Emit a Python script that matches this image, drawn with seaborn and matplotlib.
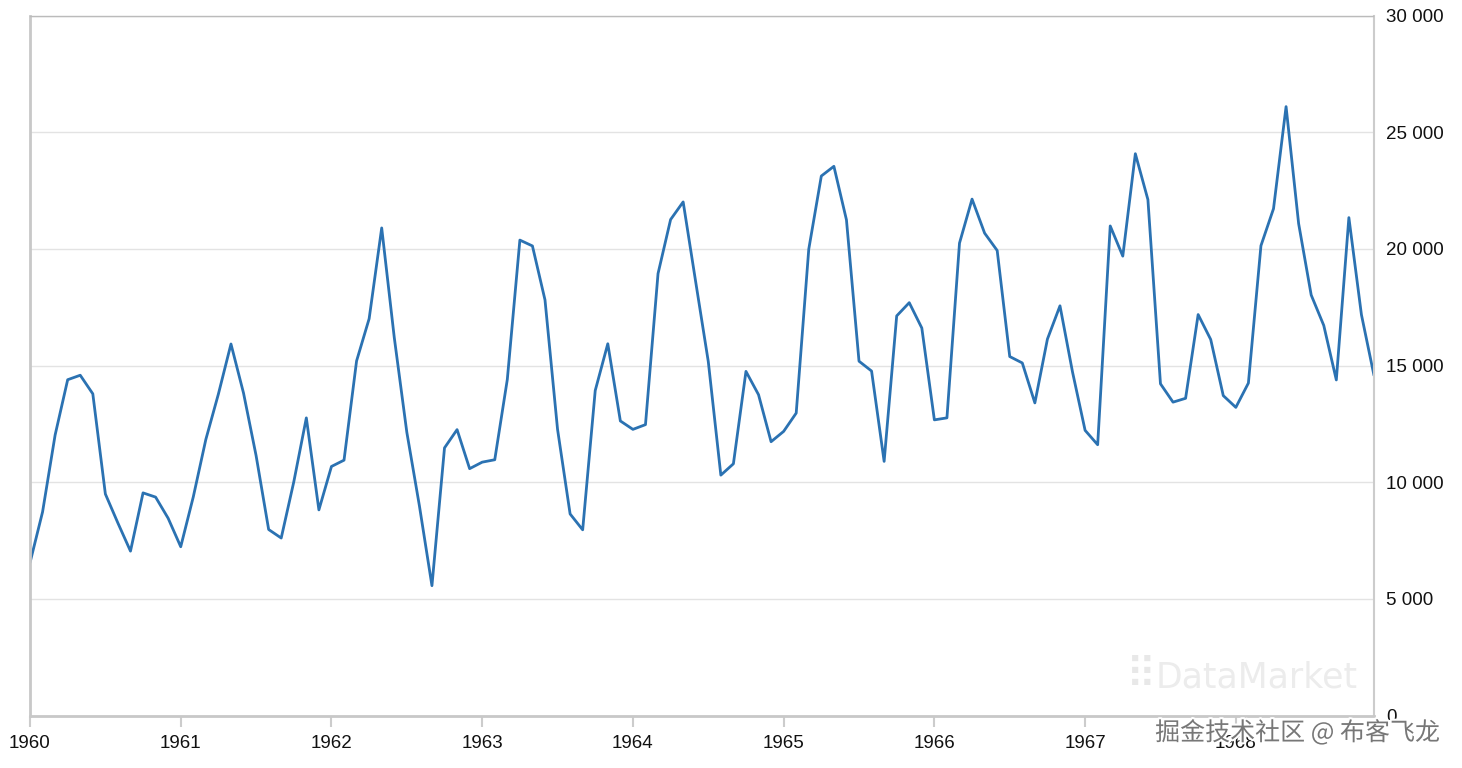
import matplotlib
matplotlib.use("Agg")
import matplotlib.pyplot as plt
import seaborn as sns
import pandas as pd
import numpy as np
from matplotlib.ticker import FuncFormatter, FixedLocator
import matplotlib.patheffects as pe

years = [1960, 1961, 1962, 1963, 1964, 1965, 1966, 1967, 1968]
sales_1960 = [6550, 8728, 12026, 14395, 14587, 13791, 9498, 8251, 7049, 9545, 9364, 8456]
sales_1961 = [7237, 9374, 11837, 13784, 15926, 13821, 11143, 7975, 7610, 10015, 12759, 8816]
sales_1962 = [10677, 10947, 15200, 17010, 20900, 16205, 12143, 8997, 5568, 11474, 12256, 10583]
sales_1963 = [10862, 10965, 14405, 20379, 20128, 17816, 12268, 8642, 7962, 13932, 15936, 12628]
sales_1964 = [12267, 12470, 18944, 21259, 22015, 18581, 15175, 10306, 10792, 14752, 13754, 11738]
sales_1965 = [12181, 12965, 19990, 23125, 23541, 21247, 15189, 14767, 10895, 17130, 17697, 16611]
sales_1966 = [12674, 12760, 20249, 22135, 20677, 19933, 15388, 15113, 13401, 16135, 17562, 14720]
sales_1967 = [12225, 11608, 20985, 19692, 24081, 22114, 14220, 13434, 13598, 17187, 16119, 13713]
sales_1968 = [13210, 14251, 20139, 21725, 26099, 21084, 18024, 16722, 14385, 21342, 17180, 14577]
y_ticks = [0, 5000, 10000, 15000, 20000, 25000, 30000]

all_sales = (sales_1960 + sales_1961 + sales_1962 + sales_1963 + sales_1964 +
             sales_1965 + sales_1966 + sales_1967 + sales_1968)
df = pd.DataFrame({"month": np.arange(len(all_sales)), "sales": all_sales})

sns.set_theme(style="white")
plt.rcParams["font.family"] = ["Liberation Sans", "DejaVu Sans"]
fig = plt.figure(figsize=(14.62, 7.68), dpi=100)
ax = fig.add_axes([30 / 1462, 1 - 715.6 / 768, (1374 - 30) / 1462, 700 / 768])

sns.lineplot(data=df, x="month", y="sales", ax=ax, color="#2b72b2", linewidth=2.0)

ax.set_xlim(0, len(all_sales) - 1)
ax.set_ylim(0, 30000)
ax.set_xlabel("")
ax.set_ylabel("")

ax.yaxis.tick_right()
ax.yaxis.set_major_locator(FixedLocator(y_ticks))
ax.yaxis.set_major_formatter(FuncFormatter(lambda v, p: f"{int(v):,}".replace(",", " ")))
ax.tick_params(axis="y", length=0, pad=9, labelsize=13.5, labelcolor="#111111")
ax.grid(axis="y", color="#e3e3e3", linewidth=1)
ax.set_axisbelow(True)

ax.set_xticks([12 * i for i in range(len(years))])
ax.set_xticklabels([str(y) for y in years])
ax.tick_params(axis="x", length=8, width=1.5, color="#cccccc", pad=6, labelsize=13.5,
               labelcolor="#111111", direction="out", bottom=True)

for side in ["left", "bottom"]:
    ax.spines[side].set_color("#c8c8c8")
    ax.spines[side].set_linewidth(2)
ax.spines["right"].set_color("#cccccc")
ax.spines["right"].set_linewidth(1.5)
ax.spines["top"].set_color("#bbbbbb")
ax.spines["top"].set_linewidth(1)
ax.spines["top"].set_linestyle((0, (1, 1)))

ax.text(0.988, 0.055, "DataMarket", transform=ax.transAxes, ha="right", va="center",
        fontsize=25, color="#ececec", family=["DejaVu Sans"])
ax.text(0.838, 0.056, "⠿", transform=ax.transAxes, ha="right", va="center",
        fontsize=30, color="#e8e8e8", family=["DejaVu Sans"])

fig.text(1440 / 1462, 1 - 733 / 768, "掘金技术社区 @ 布客飞龙", ha="right", va="center",
         fontsize=18, color="#777777", family=["Noto Sans CJK SC", "DejaVu Sans"],
         path_effects=[pe.withStroke(linewidth=3, foreground="white")])

fig.savefig("out.png", dpi=100)
